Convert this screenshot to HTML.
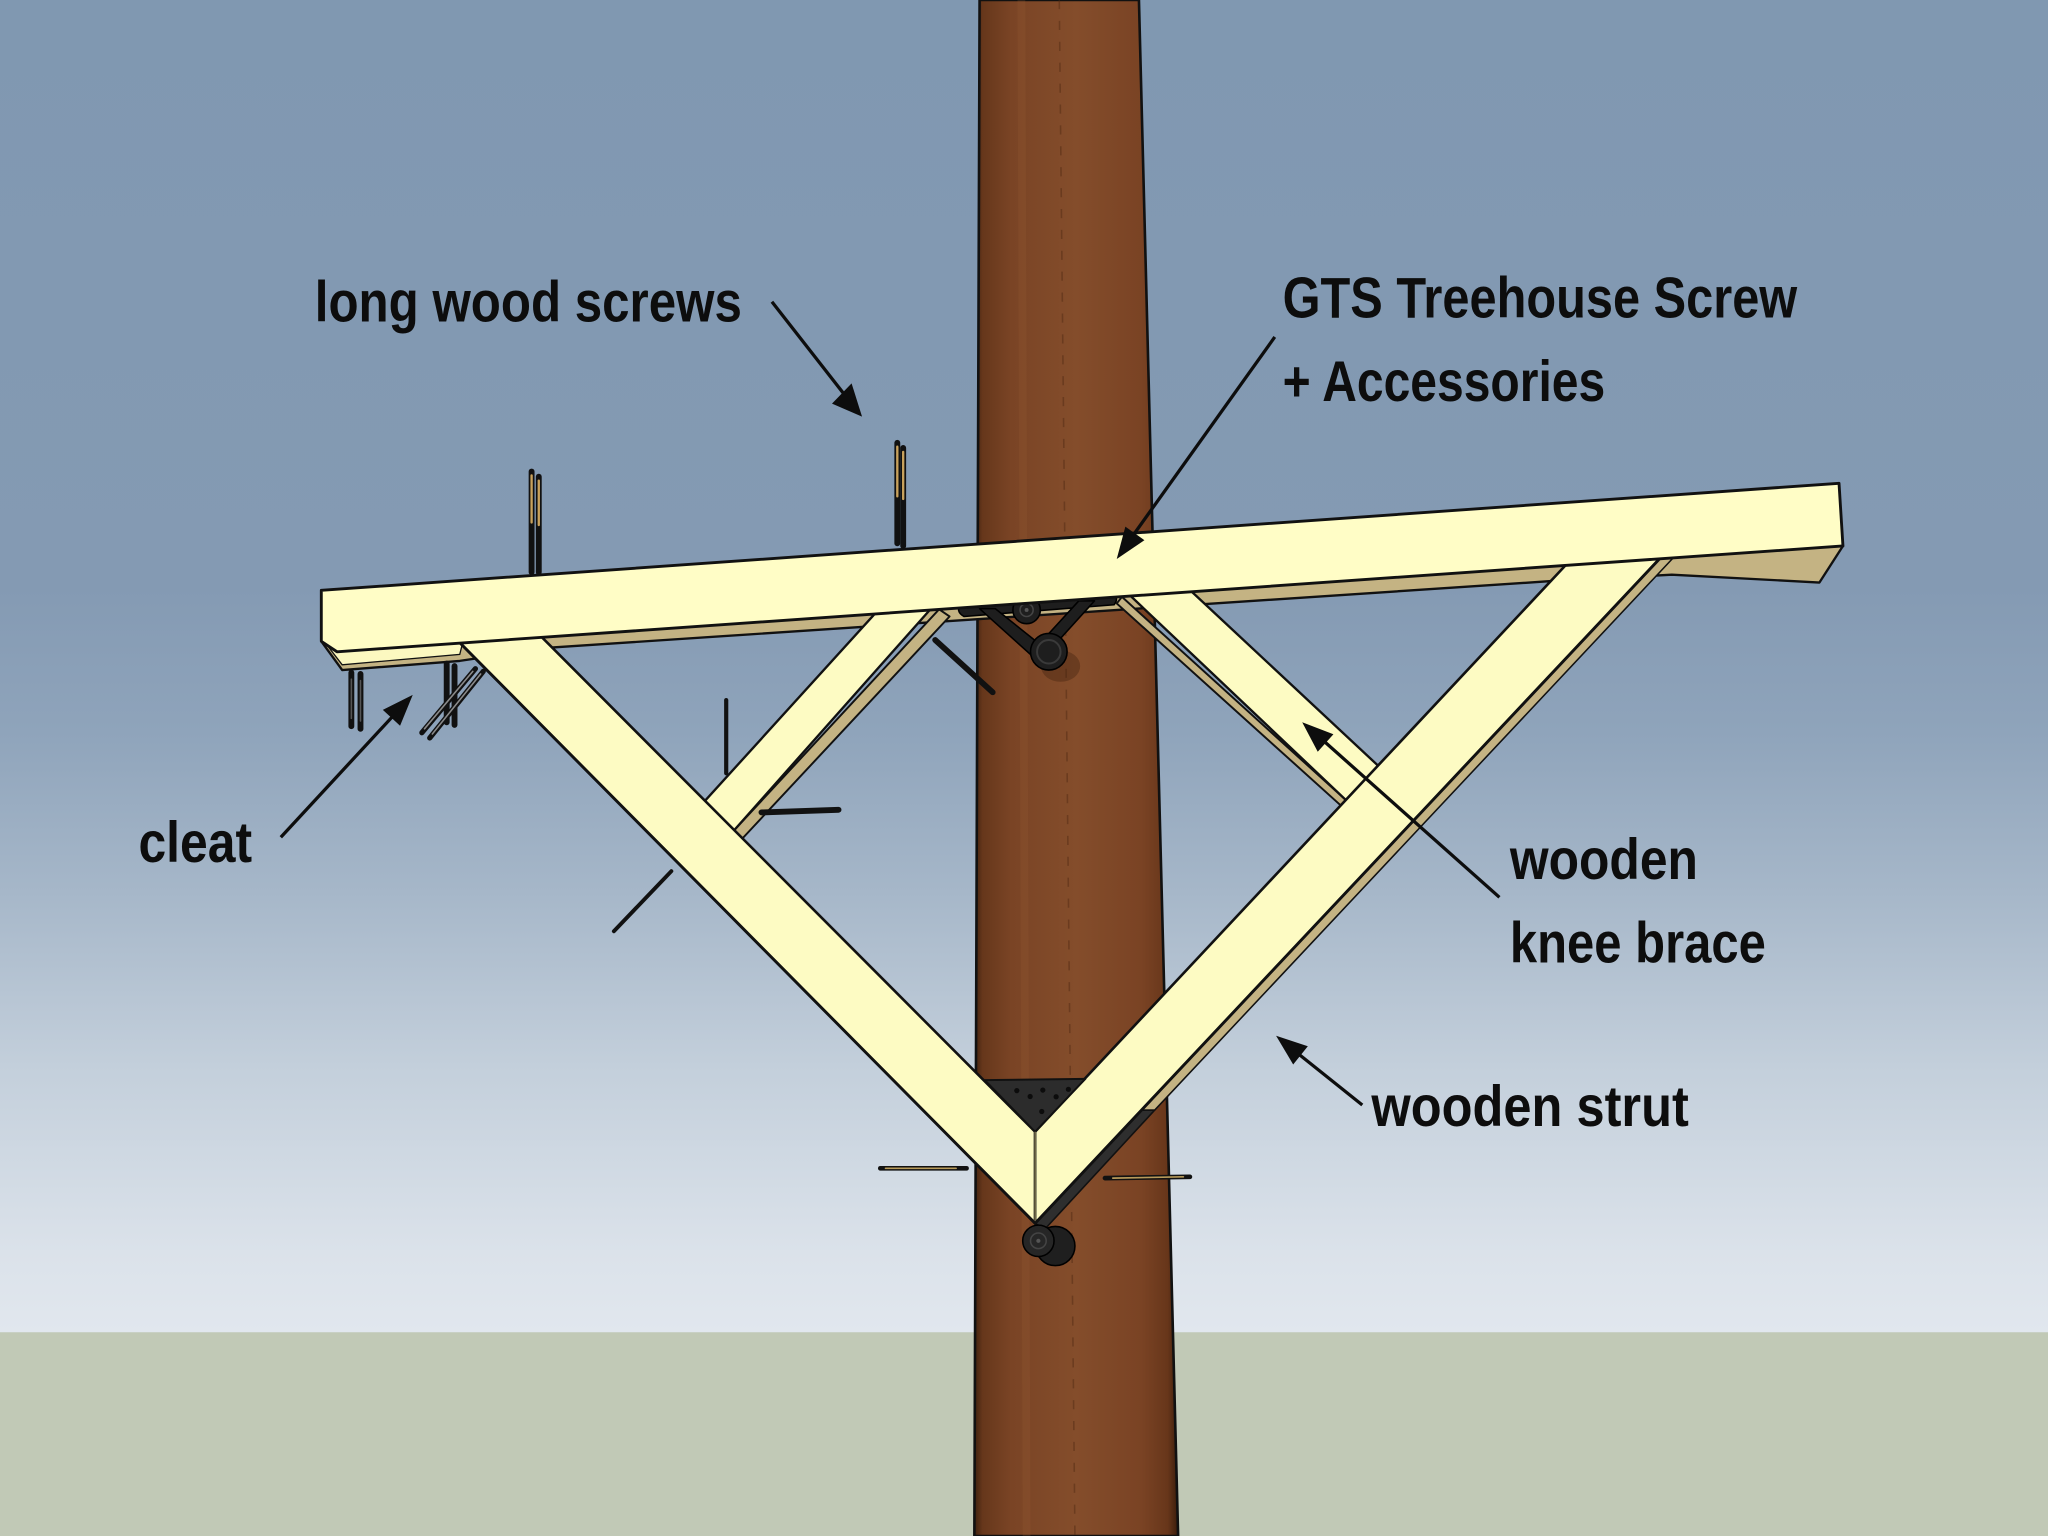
<!DOCTYPE html>
<html>
<head>
<meta charset="utf-8">
<style>
  html,body{margin:0;padding:0;background:#8199b2;}
  svg{display:block;}
  text{font-family:"Liberation Sans","DejaVu Sans",sans-serif;font-weight:bold;font-size:44px;fill:#0d0d0d;}
</style>
</head>
<body>
<svg width="2048" height="1536" viewBox="0 0 1568 1176" xmlns="http://www.w3.org/2000/svg">
  <defs>
    <linearGradient id="sky" x1="0" y1="0" x2="0" y2="1020" gradientUnits="userSpaceOnUse">
      <stop offset="0" stop-color="#8098b1"/>
      <stop offset="0.44" stop-color="#849ab3"/>
      <stop offset="0.55" stop-color="#8fa4bb"/>
      <stop offset="0.67" stop-color="#a6b7c9"/>
      <stop offset="0.80" stop-color="#c3cfdb"/>
      <stop offset="0.94" stop-color="#dbe2ea"/>
      <stop offset="1" stop-color="#e1e7ee"/>
    </linearGradient>
    <linearGradient id="pole" x1="0" y1="0" x2="1" y2="0">
      <stop offset="0" stop-color="#3e200e"/>
      <stop offset="0.04" stop-color="#66371b"/>
      <stop offset="0.18" stop-color="#7a4425"/>
      <stop offset="0.5" stop-color="#844d2b"/>
      <stop offset="0.82" stop-color="#7a4324"/>
      <stop offset="0.95" stop-color="#67361a"/>
      <stop offset="1" stop-color="#3a1c0b"/>
    </linearGradient>
    <linearGradient id="lside" x1="0" y1="488" x2="0" y2="840" gradientUnits="userSpaceOnUse">
      <stop offset="0" stop-color="#c6b685"/>
      <stop offset="0.4" stop-color="#b4a57a"/>
      <stop offset="0.7" stop-color="#5e5540"/>
      <stop offset="1" stop-color="#333"/>
    </linearGradient>
  </defs>

  <!-- sky & ground -->
  <rect x="0" y="0" width="1568" height="1021" fill="url(#sky)"/>
  <rect x="0" y="1020" width="1568" height="156" fill="#c1c9b6"/>

  <!-- pole -->
  <polygon points="750,0 872,0 902,1176 746,1176" fill="url(#pole)" stroke="#111" stroke-width="2"/>
  <line x1="811" y1="0" x2="823" y2="1176" stroke="#4e2811" stroke-opacity="0.45" stroke-width="1.2" stroke-dasharray="7 9"/>
  <line x1="782" y1="0" x2="786" y2="1176" stroke="#9a6038" stroke-opacity="0.2" stroke-width="6"/>
  <!-- shadow under knob -->
  <ellipse cx="812" cy="510" rx="15" ry="12" fill="#3a1c0b" fill-opacity="0.35"/>

  <!-- beam underside -->
  <polygon points="246,491 262,513 352,506 419,496 1186,445 1280,440 1393,446 1411,418" fill="#c4b383" stroke="#111" stroke-width="1.8" stroke-linejoin="round"/>
  <!-- cleat light strip at left -->
  <polygon points="252,496 355,489 352,501 262,509" fill="#fcf8c0" stroke="#111" stroke-width="1"/>

  <!-- GTS bracket -->
  <g fill="#1e1e1e" stroke="#000" stroke-width="1.2" stroke-linejoin="round">
    <path d="M736,462 L852,454 Q857,458 853,463 L738,472 Q731,468 736,462 Z"/>
    <polygon points="750,466 762,466 797,494 790,502"/>
    <polygon points="826,460 838,460 800,502 793,496"/>
    <circle cx="803" cy="499" r="14"/>
    <circle cx="786" cy="467" r="10.5"/>
  </g>
  <circle cx="803" cy="499" r="9" fill="none" stroke="#3a3a3a" stroke-width="1.5"/>
  <circle cx="786" cy="467" r="5" fill="none" stroke="#444" stroke-width="1.2"/>
  <circle cx="786" cy="467" r="1.5" fill="#555"/>

  <!-- right knee brace -->
  <polygon points="859,457 855,462 1028,618 1032,614" fill="#c4b383" stroke="#111" stroke-width="1.5" stroke-linejoin="round"/>
  <polygon points="859,450 906,447 1057,588 1032,614" fill="#fdfbc3" stroke="#111" stroke-width="1.8" stroke-linejoin="round"/>

  <!-- left knee brace -->
  <polygon points="719,466.5 727,472 566.5,644 561.3,636.5" fill="#c4b383" stroke="#111" stroke-width="1.5" stroke-linejoin="round"/>
  <polygon points="677,462 719,459 561.3,636.5 538.8,614.2" fill="#fdfbc3" stroke="#111" stroke-width="1.8" stroke-linejoin="round"/>

  <!-- left strut -->
  <polygon points="408,488 419,495 766,840 759,834" fill="url(#lside)" stroke="#111" stroke-width="1.2" stroke-linejoin="round"/>
  <polygon points="346,486 408,481 792.5,866.5 792.5,936.6" fill="#fdfbc3" stroke="#111" stroke-width="2" stroke-linejoin="round"/>

  <!-- right strut side -->
  <polygon points="1273,425 1283,425 884,850 874,850" fill="#c4b383" stroke="#111" stroke-width="1.2" stroke-linejoin="round"/>
  <polygon points="874,850 884,850 800,941 792.5,936.6" fill="#2e2e2e" stroke="#111" stroke-width="1.2" stroke-linejoin="round"/>
  <!-- right strut front -->
  <polygon points="1205,426 1277,421 792.5,936.6 792.5,866.5" fill="#fdfbc3" stroke="#111" stroke-width="2" stroke-linejoin="round"/>

  <!-- gusset plate -->
  <polygon points="754,827 831,826 792.5,866.5" fill="#2c2c2c" stroke="#111" stroke-width="1.5" stroke-linejoin="round"/>
  <g fill="#0c0c0c">
    <circle cx="778.5" cy="835" r="2"/><circle cx="788.7" cy="839.5" r="2"/>
    <circle cx="798.4" cy="834.6" r="2"/><circle cx="808.6" cy="839.7" r="2"/>
    <circle cx="818" cy="834" r="2"/><circle cx="797.6" cy="851" r="2"/>
  </g>
  <line x1="792.5" y1="866.5" x2="792.5" y2="936.6" stroke="#9a9060" stroke-width="0.9"/>
  <!-- re-stroke V outline -->
  <polyline points="346,486 792.5,936.6 1277,421" fill="none" stroke="#111" stroke-width="2.2" stroke-linejoin="miter"/>

  <!-- beam front face -->
  <polygon points="246,452 1408,370 1411,418 258,499 246,491" fill="#fffdc6" stroke="#111" stroke-width="2.2" stroke-linejoin="round"/>

  <!-- bottom bolt -->
  <circle cx="808" cy="954" r="15" fill="#1f1f1f" stroke="#000" stroke-width="1.2"/>
  <circle cx="795" cy="950" r="12" fill="#262626" stroke="#000" stroke-width="1.2"/>
  <circle cx="795" cy="950" r="6" fill="none" stroke="#444" stroke-width="1.2"/>
  <circle cx="795" cy="950" r="1.6" fill="#555"/>

  <!-- screws: long wood screws on top -->
  <g stroke-linecap="round">
    <line x1="407" y1="361" x2="407" y2="438" stroke="#111" stroke-width="4.5"/>
    <line x1="407" y1="364" x2="407" y2="400" stroke="#c9a25c" stroke-width="1.8"/>
    <line x1="412.5" y1="365" x2="412.5" y2="438" stroke="#111" stroke-width="4.5"/>
    <line x1="412.5" y1="368" x2="412.5" y2="402" stroke="#c9a25c" stroke-width="1.8"/>
    <line x1="687" y1="339" x2="687" y2="416" stroke="#111" stroke-width="4.5"/>
    <line x1="687" y1="342" x2="687" y2="380" stroke="#c9a25c" stroke-width="1.8"/>
    <line x1="691.5" y1="343" x2="691.5" y2="418" stroke="#111" stroke-width="4.5"/>
    <line x1="691.5" y1="346" x2="691.5" y2="382" stroke="#c9a25c" stroke-width="1.8"/>

    <!-- cleat screws -->
    <line x1="269" y1="515" x2="269" y2="556" stroke="#111" stroke-width="4.5"/>
    <line x1="269" y1="520" x2="269" y2="550" stroke="#555" stroke-width="1.2"/>
    <line x1="276" y1="516" x2="276" y2="558" stroke="#111" stroke-width="4.5"/>
    <line x1="276" y1="521" x2="276" y2="552" stroke="#555" stroke-width="1.2"/>
    <line x1="342" y1="508" x2="342" y2="553" stroke="#111" stroke-width="4.5"/>
    <line x1="348" y1="510" x2="348" y2="555" stroke="#111" stroke-width="4.5"/>
    <line x1="323" y1="561" x2="364" y2="512" stroke="#111" stroke-width="4"/>
    <line x1="325" y1="558" x2="362" y2="514" stroke="#8a8a8a" stroke-width="1.2"/>
    <line x1="329" y1="565" x2="370" y2="514" stroke="#111" stroke-width="4"/>
    <line x1="331" y1="562" x2="368" y2="516" stroke="#8a8a8a" stroke-width="1.2"/>

    <!-- misc screws -->
    <line x1="716" y1="490" x2="760" y2="530" stroke="#111" stroke-width="4.5"/>
    <line x1="556" y1="536" x2="556" y2="592" stroke="#111" stroke-width="3.2"/>
    <line x1="583" y1="622" x2="642" y2="620" stroke="#111" stroke-width="4.5"/>
    <line x1="470" y1="713" x2="514" y2="667" stroke="#111" stroke-width="3"/>
    <line x1="674" y1="894.5" x2="740" y2="894.5" stroke="#111" stroke-width="3.6"/>
    <line x1="678" y1="894.5" x2="732" y2="894.5" stroke="#b79a5a" stroke-width="1.3"/>
    <line x1="846" y1="902" x2="911" y2="901" stroke="#111" stroke-width="3.6"/>
    <line x1="852" y1="902" x2="906" y2="901" stroke="#b79a5a" stroke-width="1.3"/>
  </g>

  <!-- annotation arrows -->
  <g stroke="#0d0d0d" stroke-width="2.5" fill="none">
    <line x1="591" y1="231" x2="648" y2="304"/>
    <line x1="976" y1="258" x2="866" y2="412"/>
    <line x1="215" y1="641" x2="302" y2="547"/>
    <line x1="1148" y1="687" x2="1012" y2="566"/>
    <line x1="1043" y1="846" x2="993" y2="806"/>
  </g>
  <g fill="#0d0d0d">
    <polygon points="660,319 637,309 652,293.5"/>
    <polygon points="855,428 861.6,403.2 876.2,413.6"/>
    <polygon points="316,532 306.3,555.7 293.1,543.5"/>
    <polygon points="997,553 1020.9,562.2 1008.9,575.6"/>
    <polygon points="977,793 1001.3,801 990.1,815"/>
  </g>

  <!-- labels -->
  <text x="241" y="246" textLength="327" lengthAdjust="spacingAndGlyphs">long wood screws</text>
  <text x="982" y="243" textLength="394" lengthAdjust="spacingAndGlyphs">GTS Treehouse Screw</text>
  <text x="982" y="307" textLength="247" lengthAdjust="spacingAndGlyphs">+ Accessories</text>
  <text x="106" y="660" textLength="87" lengthAdjust="spacingAndGlyphs">cleat</text>
  <text x="1156" y="673" textLength="144" lengthAdjust="spacingAndGlyphs">wooden</text>
  <text x="1156" y="737" textLength="196" lengthAdjust="spacingAndGlyphs">knee brace</text>
  <text x="1050" y="862" textLength="243" lengthAdjust="spacingAndGlyphs">wooden strut</text>
</svg>
</body>
</html>
